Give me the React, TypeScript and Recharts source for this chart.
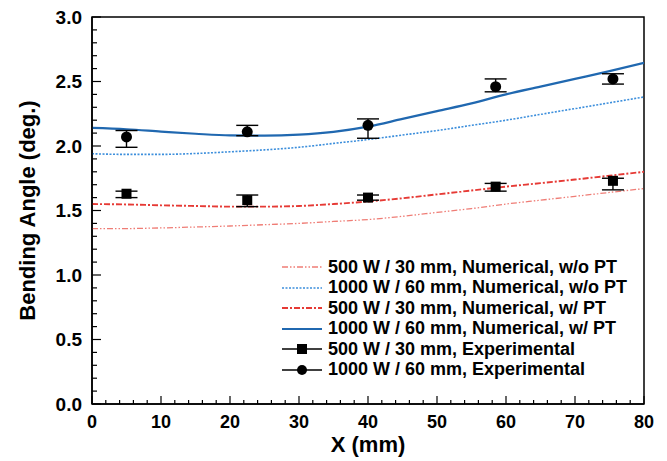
import { ComposedChart, Line, Scatter, XAxis, YAxis, ErrorBar, ReferenceArea, Legend } from 'recharts';

// x positions of the numerical curves (mm)
const xGrid = [0, 5, 10, 15, 20, 25, 30, 35, 40, 45, 50, 55, 60, 65, 70, 75, 80];

// numerical results
const num500woPT = [1.36, 1.36, 1.365, 1.372, 1.38, 1.39, 1.40, 1.415, 1.43, 1.455, 1.485, 1.515, 1.55, 1.58, 1.61, 1.64, 1.67];
const num1000woPT = [1.94, 1.935, 1.935, 1.942, 1.955, 1.97, 1.99, 2.02, 2.05, 2.085, 2.12, 2.16, 2.20, 2.245, 2.29, 2.335, 2.38];
const num500PT = [1.55, 1.547, 1.54, 1.535, 1.53, 1.53, 1.535, 1.55, 1.57, 1.595, 1.625, 1.655, 1.685, 1.712, 1.74, 1.77, 1.80];
const num1000PT = [2.14, 2.13, 2.112, 2.095, 2.082, 2.08, 2.088, 2.11, 2.15, 2.21, 2.27, 2.33, 2.40, 2.46, 2.52, 2.58, 2.645];

// experiments
const expX = [5, 22.5, 40, 58.5, 75.5];
const exp500 = [1.63, 1.58, 1.60, 1.685, 1.73];
const exp500Err = [[0.03, 0.02], [0.05, 0.04], [0.02, 0.02], [0.035, 0.025], [0.07, 0.02]];
const exp1000 = [2.07, 2.11, 2.16, 2.46, 2.52];
const exp1000Err = [[0.08, 0.05], [0.03, 0.05], [0.10, 0.05], [0.04, 0.06], [0.04, 0.04]];

const xTicks = Array.from({ length: 41 }, (_, i) => i * 2);
const yTicks = Array.from({ length: 31 }, (_, i) => i / 10);

const FONT = '"Liberation Sans", Arial, sans-serif';

const curve = (vals: number[]) => xGrid.map((x, i) => ({ x, y: vals[i] }));
const points = (vals: number[], errs: number[][]) => expX.map((x, i) => ({ x, y: vals[i], err: errs[i] }));

const legendItems = [
    { label: '500 W / 30 mm, Numerical, w/o PT', color: '#ef7d76', dash: '6 2 1.5 2 1.5 2', w: 1.3, marker: '' },
    { label: '1000 W / 60 mm, Numerical, w/o PT', color: '#3d8fdc', dash: '2 1.5', w: 1.6, marker: '' },
    { label: '500 W / 30 mm, Numerical, w/ PT', color: '#e63a35', dash: '6 2 2 2', w: 1.9, marker: '' },
    { label: '1000 W / 60 mm, Numerical, w/ PT', color: '#2068b0', dash: '', w: 2.2, marker: '' },
    { label: '500 W / 30 mm, Experimental', color: '#000', dash: '', w: 1.5, marker: 'square' },
    { label: '1000 W / 60 mm, Experimental', color: '#000', dash: '', w: 1.5, marker: 'circle' },
];

const XTick = (props: any) => {
    const { x, y, payload } = props;
    const v = payload.value;
    const major = v % 10 === 0;
    return (
        <g>
            <line x1={x} y1={y} x2={x} y2={y - (major ? 8 : 4)} stroke="#000" strokeWidth={1.2} />
            {major && (
                <text x={x} y={y + 18} textAnchor="middle" dominantBaseline="central" fontFamily={FONT} fontWeight="bold" fontSize={18} fill="#000">
                    {v}
                </text>
            )}
        </g>
    );
};

const YTick = (props: any) => {
    const { x, y, payload } = props;
    const v = payload.value;
    const major = Math.abs(v * 2 - Math.round(v * 2)) < 1e-6;
    return (
        <g>
            <line x1={x} y1={y} x2={x + (major ? 9 : 5)} y2={y} stroke="#000" strokeWidth={1.2} />
            {major && (
                <text x={x - 10} y={y} textAnchor="end" dominantBaseline="central" fontFamily={FONT} fontWeight="bold" fontSize={19} fill="#000">
                    {v.toFixed(1)}
                </text>
            )}
        </g>
    );
};

const renderLegend = () => (
    <div style={{ fontFamily: FONT, fontWeight: 'bold', fontSize: 18, color: '#000' }}>
        {legendItems.map((it) => (
            <div key={it.label} style={{ display: 'flex', alignItems: 'center', height: 20.5, whiteSpace: 'nowrap' }}>
                <svg width={40} height={14}>
                    <line x1={0} y1={7} x2={40} y2={7} stroke={it.color} strokeWidth={it.w} strokeDasharray={it.dash || undefined} />
                    {it.marker === 'square' && <rect x={15} y={2} width={10} height={10} fill="#000" />}
                    {it.marker === 'circle' && <circle cx={20} cy={7} r={5} fill="#000" />}
                </svg>
                <span style={{ marginLeft: 6 }}>{it.label}</span>
            </div>
        ))}
    </div>
);

const App = () => {
    return (
        <div style={{ position: 'absolute', left: 0, top: 0 }}>
            <ComposedChart width={667} height={461} margin={{ top: 17, right: 23, left: 0, bottom: 0 }}>
                <XAxis
                    type="number"
                    dataKey="x"
                    domain={[0, 80]}
                    ticks={xTicks}
                    interval={0}
                    tickSize={0}
                    tickMargin={0}
                    tick={<XTick />}
                    height={57}
                    allowDataOverflow
                    axisLine={{ stroke: '#000', strokeWidth: 1.5 }}
                    label={{
                        value: 'X (mm)',
                        position: 'insideBottom',
                        offset: 9,
                        style: { fontFamily: FONT, fontWeight: 'bold', fontSize: 22, fill: '#000' },
                    }}
                />
                <YAxis
                    type="number"
                    dataKey="y"
                    domain={[0, 3]}
                    ticks={yTicks}
                    interval={0}
                    tickSize={0}
                    tickMargin={0}
                    tick={<YTick />}
                    width={92}
                    allowDataOverflow
                    axisLine={{ stroke: '#000', strokeWidth: 1.5 }}
                    label={{
                        content: (p: any) => {
                            const vb = p.viewBox;
                            const cy = vb.y + vb.height / 2;
                            return (
                                <text x={27} y={cy} transform={`rotate(-90 27 ${cy})`} textAnchor="middle" dominantBaseline="central"
                                    fontFamily={FONT} fontWeight="bold" fontSize={22} fill="#000">
                                    Bending Angle (deg.)
                                </text>
                            );
                        },
                    }}
                />
                <ReferenceArea x1={0} x2={80} y1={0} y2={3} fill="none" stroke="#000" strokeWidth={1.5} ifOverflow="visible" />
                <Line data={curve(num500woPT)} dataKey="y" type="monotone" dot={false} stroke="#ef7d76" strokeWidth={1.3} strokeDasharray="6 2 1.5 2 1.5 2" isAnimationActive={false} />
                <Line data={curve(num1000woPT)} dataKey="y" type="monotone" dot={false} stroke="#3d8fdc" strokeWidth={1.6} strokeDasharray="2 1.5" isAnimationActive={false} />
                <Line data={curve(num500PT)} dataKey="y" type="monotone" dot={false} stroke="#e63a35" strokeWidth={1.9} strokeDasharray="6 2 2 2" isAnimationActive={false} />
                <Line data={curve(num1000PT)} dataKey="y" type="monotone" dot={false} stroke="#2068b0" strokeWidth={2.2} isAnimationActive={false} />
                <Scatter
                    data={points(exp500, exp500Err)}
                    dataKey="y"
                    isAnimationActive={false}
                    shape={(p: any) => <rect x={p.cx - 5} y={p.cy - 5} width={10} height={10} fill="#000" />}
                >
                    <ErrorBar dataKey="err" direction="y" width={11} stroke="#000" strokeWidth={1.4} isAnimationActive={false} />
                </Scatter>
                <Scatter
                    data={points(exp1000, exp1000Err)}
                    dataKey="y"
                    isAnimationActive={false}
                    shape={(p: any) => <circle cx={p.cx} cy={p.cy} r={5.5} fill="#000" />}
                >
                    <ErrorBar dataKey="err" direction="y" width={11} stroke="#000" strokeWidth={1.4} isAnimationActive={false} />
                </Scatter>
                <Legend
                    layout="vertical"
                    align="center"
                    verticalAlign="middle"
                    wrapperStyle={{ left: 282, top: 257, width: 375 }}
                    content={renderLegend}
                />
            </ComposedChart>
        </div>
    );
};

export default App;
